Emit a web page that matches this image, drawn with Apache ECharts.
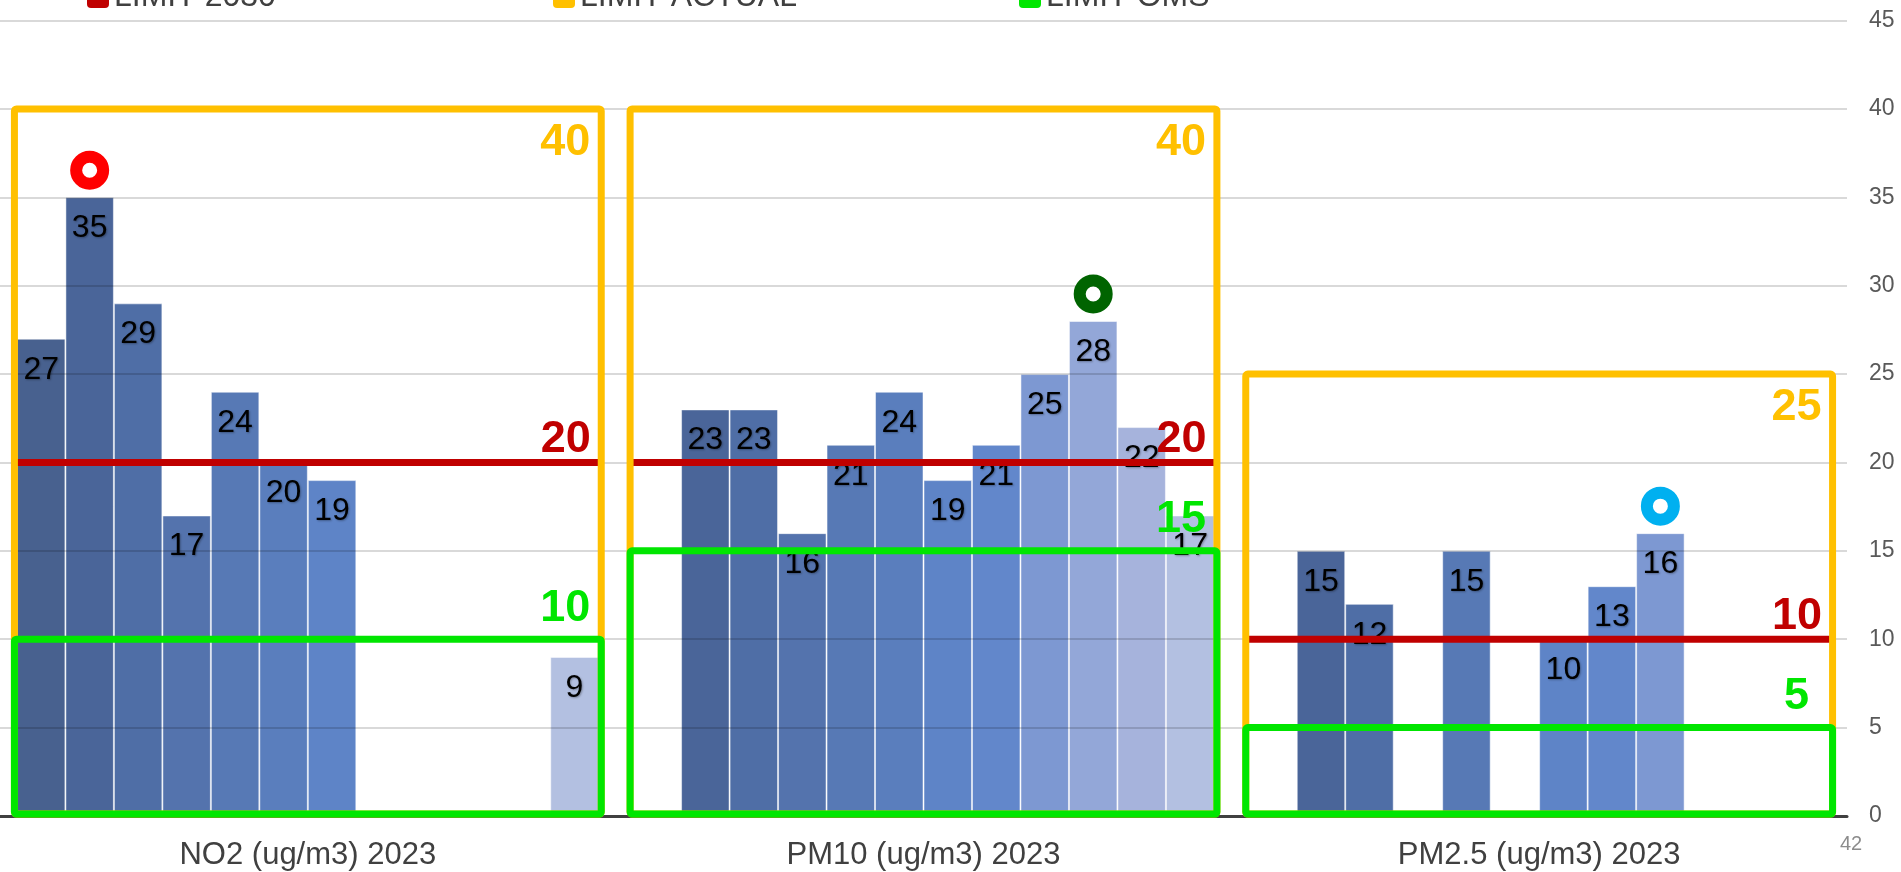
<!DOCTYPE html>
<html>
<head>
<meta charset="utf-8">
<title>Qualitat de l'aire 2023</title>
<script src="https://cdn.jsdelivr.net/npm/echarts@6/dist/echarts.min.js"></script>
<style>
  html, body { margin: 0; padding: 0; background: #ffffff; }
  #chart { width: 1901px; height: 872px; }
</style>
</head>
<body>
<div id="chart"></div>
<script>
// Pollutant groups on the x axis
const categories = ['NO2 (ug/m3) 2023', 'PM10 (ug/m3) 2023', 'PM2.5 (ug/m3) 2023'];

// Annual mean per measuring column (12 columns per group, null = not measured)
const no2Values  = [27, 35, 29, 17, 24, 20, 19, null, null, null, null, 9];
const pm10Values = [null, 23, 23, 16, 21, 24, 19, 21, 25, 28, 22, 17];
const pm25Values = [null, 15, 12, null, 15, null, 10, 13, 16, null, null, null];

// Limit values per pollutant
const limit2030   = [20, 20, 10];
const limitActual = [40, 40, 25];
const limitOms    = [10, 15, 5];
const limitNames  = ['LIMIT 2030', 'LIMIT ACTUAL', 'LIMIT OMS'];

// Highlighted maximum per group: group index and column index
const peakCategory = [0, 1, 2];
const peakColumn   = [1, 9, 8];

// Value axis
const yMin = 0, yMax = 45, yStep = 5;

// ---- styling ----
const FONT = '"Liberation Sans", Arial, sans-serif';
const columnColors = ['#48618F', '#4A6599', '#4F6EA6', '#5473AD', '#5779B5', '#5A7EBD',
                      '#5E84C7', '#6287CB', '#7D98D2', '#93A7D8', '#A6B3DC', '#B3C0E1'];
const ringColors = ['#FF0000', '#006400', '#00B0F0'];
const RED = '#C00000', YELLOW = '#FFC000', GREEN = '#00E600';
const limitColors = [RED, YELLOW, GREEN];
const CAT_GAP = 0.055;

const groupValues = [no2Values, pm10Values, pm25Values];

function halfGroup(api) {
  return api.size([1, 0])[0] * (1 - CAT_GAP) / 2;
}

// ---- limit frames ----
function plainFrame(color) {
  return function (params, api) {
    const c = api.value(0), v = api.value(1);
    const p = api.coord([c, v]);
    const b = api.coord([c, 0]);
    const h = halfGroup(api) + 2.5;
    return {
      type: 'rect',
      shape: { x: p[0] - h, y: p[1], width: 2 * h, height: b[1] - p[1] - 2 },
      style: { fill: 'none', stroke: color, lineWidth: 7 }
    };
  };
}

// Yellow frame (current limit) with the 2030 limit line inside it
function actualFrame(params, api) {
  const c = api.value(0), v = api.value(1);
  const p = api.coord([c, v]);
  const b = api.coord([c, 0]);
  const r = api.coord([c, limit2030[c]]);
  const h = halfGroup(api);
  return {
    type: 'group',
    children: [
      { type: 'rect', shape: { x: r[0] - h, y: r[1] - 3.5, width: 2 * h, height: 7 }, style: { fill: RED } },
      {
        type: 'rect',
        shape: { x: p[0] - h - 2.5, y: p[1], width: 2 * h + 5, height: b[1] - p[1] - 2, r: 2 },
        style: { fill: 'none', stroke: YELLOW, lineWidth: 7, lineJoin: 'round' }
      }
    ]
  };
}

// Green frame (WHO guideline)
function omsFrame(params, api) {
  const c = api.value(0), v = api.value(1);
  const p = api.coord([c, v]);
  const b = api.coord([c, 0]);
  const h = halfGroup(api) + 2.5;
  return {
    type: 'rect',
    shape: { x: p[0] - h, y: p[1], width: 2 * h, height: b[1] - p[1] - 2, r: 2 },
    style: { fill: 'none', stroke: GREEN, lineWidth: 7, lineJoin: 'round' }
  };
}

// ---- series ----
function buildSeries(f) {
  const series = [];
  for (let i = 0; i < columnColors.length; i++) {
    const label = {
      show: true, position: 'insideTop', distance: 15,
      color: '#000000', fontFamily: FONT, fontSize: 32
    };
    if (f.labelShadow) {
      Object.assign(label, { textShadowColor: 'rgba(0,0,0,0.3)', textShadowBlur: 2, textShadowOffsetX: 1, textShadowOffsetY: 1 });
    }
    const s = {
      type: 'bar',
      name: 'col' + (i + 1),
      data: groupValues.map(g => g[i]),
      barGap: '0%',
      barCategoryGap: (CAT_GAP * 100) + '%',
      z: 1,
      itemStyle: { color: columnColors[i], borderColor: 'rgba(255,255,255,0.5)', borderWidth: 1 },
      label: label
    };
    const marks = [];
    peakColumn.forEach((col, k) => {
      if (col === i) {
        const cat = peakCategory[k];
        marks.push({
          coord: [cat, groupValues[cat][col]],
          itemStyle: { color: '#ffffff', borderColor: ringColors[k], borderWidth: 12 }
        });
      }
    });
    if (marks.length) {
      s.markPoint = {
        symbol: 'circle', symbolSize: 27, symbolOffset: [0, -27],
        label: { show: false }, data: marks, animation: false
      };
    }
    series.push(s);
  }
  series.push({
    type: 'custom', name: limitNames[1], z: 3,
    data: limitActual.map((v, i) => [i, v]),
    renderItem: f.frameStyle ? actualFrame : plainFrame(YELLOW)
  });
  series.push({
    type: 'custom', name: limitNames[2], z: 3,
    data: limitOms.map((v, i) => [i, v]),
    renderItem: f.frameStyle ? omsFrame : plainFrame(GREEN)
  });
  return series;
}

function buildOption(f) {
  const opt = {
    animation: false,
    grid: { left: 0, right: 54, top: 20.5, bottom: 56 },
    xAxis: f.xStyle ? {
      type: 'category', data: categories, z: 2,
      axisLine: { show: true, lineStyle: { color: '#404040', width: 3 } },
      axisTick: { show: false },
      axisLabel: { color: '#404040', fontFamily: FONT, fontSize: 31, margin: 24 },
      splitLine: { show: false }
    } : { type: 'category', data: categories, z: 2 },
    yAxis: f.yStyle ? {
      type: 'value', position: 'right', min: yMin, max: yMax, interval: yStep, z: 2,
      axisLine: { show: false },
      axisTick: { show: false },
      axisLabel: { color: '#595959', fontFamily: FONT, fontSize: 23, margin: 22 },
      splitLine: { show: true, lineStyle: { color: 'rgba(0,0,0,0.2)', width: 1.5 } }
    } : { type: 'value', position: 'right', min: yMin, max: yMax, interval: yStep, z: 2 },
    series: buildSeries(f)
  };
  if (f.background) opt.backgroundColor = '#ffffff';
  return opt;
}

const chart = echarts.init(document.getElementById('chart'));
const px = (cat, v) => chart.convertToPixel({ gridIndex: 0 }, [categories[cat], v]);

// ---- limit numbers, legend keys and page number ----
function limitText(x, y, v, color) {
  return {
    type: 'text', x: x, y: y, z: 10,
    style: {
      text: String(v), fill: color, fontFamily: FONT, fontWeight: 'bold', fontSize: 45,
      align: 'center', verticalAlign: 'middle'
    }
  };
}

function buildOverlay(f) {
  const band = px(1, 0)[0] - px(0, 0)[0];
  const half = band * (1 - CAT_GAP) / 2;
  const els = [];
  categories.forEach((c, i) => {
    const r = px(i, limit2030[i]);
    if (!f.frameStyle) {
      els.push({ type: 'rect', z: 2, shape: { x: r[0] - half, y: r[1] - 3.5, width: 2 * half, height: 7 }, style: { fill: RED } });
    }
    const a = px(i, limitActual[i]);
    els.push(limitText(a[0] + half - 33.5, a[1] + 34, limitActual[i], YELLOW));
    els.push(limitText(r[0] + half - 33, r[1] - 23, limit2030[i], RED));
    const g = px(i, limitOms[i]);
    els.push(limitText(g[0] + half - 33.5, g[1] - 31, limitOms[i], GREEN));
  });
  const legendLeft = [87, 553, 1019];
  limitNames.forEach((name, k) => {
    els.push({ type: 'rect', z: 10, shape: { x: legendLeft[k], y: -14, width: 22, height: 22, r: 4 }, style: { fill: limitColors[k] } });
    els.push({
      type: 'text', x: legendLeft[k] + 27, y: -3, z: 10,
      style: { text: name, fill: '#404040', fontFamily: FONT, fontSize: 32, verticalAlign: 'middle' }
    });
  });
  els.push({ type: 'text', x: 1840, y: 834, z: 10, style: { text: '42', fill: '#8c8c8c', fontFamily: FONT, fontSize: 20 } });
  return els;
}

function render(f) {
  chart.setOption(buildOption(f), true);
  if (f.overlay) chart.setOption({ graphic: buildOverlay(f) });
}

// Verify on the canvas that every column is painted up to its value
function columnsDrawnAtValues() {
  const canvas = chart.getDom().querySelector('canvas');
  if (!canvas) return false;
  const ctx = canvas.getContext('2d');
  const k = canvas.width / chart.getWidth();
  const band = px(1, 0)[0] - px(0, 0)[0];
  const groupW = band * (1 - CAT_GAP);
  const colW = groupW / columnColors.length;
  for (let c = 0; c < categories.length; c++) {
    const start = px(c, 0)[0] - groupW / 2;
    for (let i = 0; i < columnColors.length; i++) {
      const v = groupValues[c][i];
      if (v == null) continue;
      const y = Math.round(px(c, v)[1] + 7);
      let painted = false;
      for (let x = start + i * colW + 3; x <= start + (i + 1) * colW - 3; x += 3) {
        const d = ctx.getImageData(Math.round(x * k), Math.round(y * k), 1, 1).data;
        if (d[2] - d[0] > 25) { painted = true; break; }
      }
      if (!painted) return false;
    }
  }
  return true;
}

// Style options, most visible first; drop the fewest needed for a correct drawing
const flagNames  = ['xStyle', 'yStyle', 'background', 'frameStyle', 'overlay', 'labelShadow'];
const flagWeight = [3, 2, 0.5, 2, 6, 0.3];
function flagsFor(mask) {
  const f = {};
  flagNames.forEach((n, b) => { f[n] = !(mask & (1 << b)); });
  return f;
}
function removedWeight(mask) {
  let w = 0;
  flagWeight.forEach((wt, b) => { if (mask & (1 << b)) w += wt; });
  return w;
}
const masks = [];
for (let m = 0; m < (1 << flagNames.length); m++) masks.push(m);
masks.sort((a, b) => removedWeight(a) - removedWeight(b));

let chosen = null;
for (const m of masks) {
  render(flagsFor(m));
  let ok = false;
  try { ok = columnsDrawnAtValues(); } catch (e) { ok = false; }
  if (ok) { chosen = m; break; }
}
if (chosen === null) render(flagsFor(0));
</script>
</body>
</html>
